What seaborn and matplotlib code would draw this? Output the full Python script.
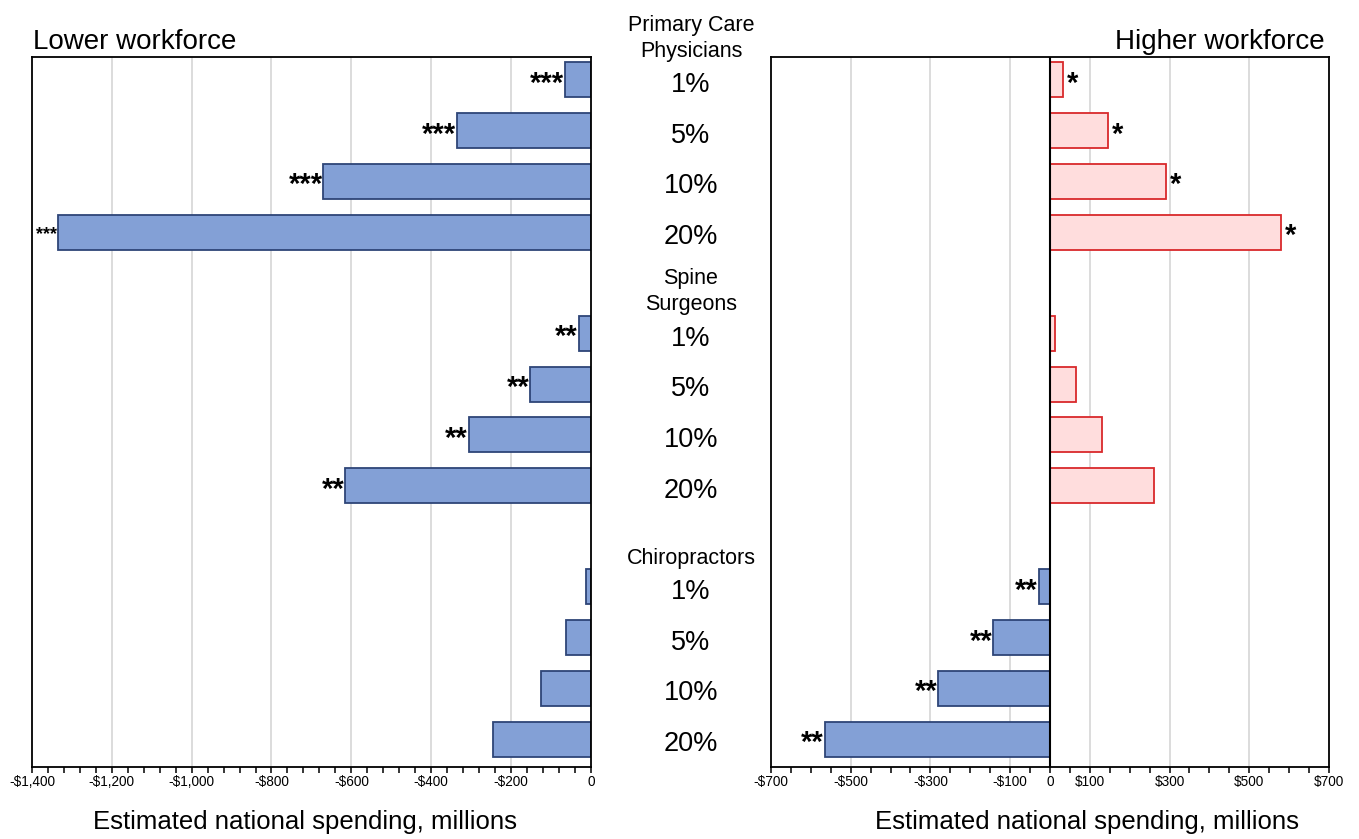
import matplotlib
matplotlib.use("Agg")
import matplotlib.pyplot as plt
import matplotlib.transforms as mtransforms
from matplotlib.ticker import FixedLocator, MultipleLocator
import pandas as pd
import seaborn as sns

# ---- data -------------------------------------------------------------
groups = ["Primary Care\nPhysicians", "Spine\nSurgeons", "Chiropractors"]
levels = ["1%", "5%", "10%", "20%"]

# change in estimated national spending, millions of dollars
lower_pcp = [-65, -335, -670, -1335]
lower_spine = [-31, -152, -306, -615]
lower_chiro = [-13, -62, -124, -244]

higher_pcp = [32, 146, 291, 579]
higher_spine = [13, 66, 131, 261]
higher_chiro = [-28, -142, -280, -565]

lower_sig = ["***", "***", "***", "***", "**", "**", "**", "**", "", "", "", ""]
higher_sig = ["*", "*", "*", "*", "", "", "", "", "**", "**", "**", "**"]

left_ticks = [-1400, -1200, -1000, -800, -600, -400, -200, 0]
left_tick_labels = ["-$1,400", "-$1,200", "-$1,000", "-$800", "-$600", "-$400", "-$200", "0"]
right_ticks = [-700, -500, -300, -100, 0, 100, 300, 500, 700]
right_tick_labels = ["-$700", "-$500", "-$300", "-$100", "0", "$100", "$300", "$500", "$700"]

panel_titles = ["Lower workforce", "Higher workforce"]
x_title = "Estimated national spending, millions"

# ---- styling ----------------------------------------------------------
sns.set_style("white")
plt.rcParams["font.family"] = ["Liberation Sans", "DejaVu Sans"]
plt.rcParams["text.color"] = "black"
plt.rcParams["xtick.color"] = "black"
plt.rcParams["xtick.labelcolor"] = "black"

BLUE = "#83A0D6"
BLUE_EDGE = "#2E4577"
PINK = "#FFDDDD"
RED_EDGE = "#D9292B"
GRID = "#D9D9D9"


def build_frame(pcp, spine, chiro, sig):
    rows = []
    for gi, vals in enumerate([pcp, spine, chiro]):
        for li, v in enumerate(vals):
            rows.append({"group": gi, "level": levels[li], "value": v,
                         "pos": gi * 5 + li})
    df = pd.DataFrame(rows)
    df["sig"] = sig
    return df


lower_df = build_frame(lower_pcp, lower_spine, lower_chiro, lower_sig)
higher_df = build_frame(higher_pcp, higher_spine, higher_chiro, higher_sig)

fig = plt.figure(figsize=(13.59, 8.39), dpi=100)
ax_l = fig.add_axes([0.0235, 0.0858, 0.4113, 0.8462])
ax_r = fig.add_axes([0.5673, 0.0858, 0.4106, 0.8462])


def draw_panel(ax, df, ticks, tick_labels, minor_step, star_sizes=None):
    neg = df[df["value"] < 0]
    pos = df[df["value"] > 0]
    if len(neg):
        sns.barplot(data=neg, x="value", y="pos", orient="h", native_scale=True,
                    width=0.69, color=BLUE, edgecolor=BLUE_EDGE, linewidth=1.3,
                    saturation=1, errorbar=None, ax=ax, zorder=2)
    if len(pos):
        sns.barplot(data=pos, x="value", y="pos", orient="h", native_scale=True,
                    width=0.69, color=PINK, edgecolor=RED_EDGE, linewidth=1.3,
                    saturation=1, errorbar=None, ax=ax, zorder=2)
    ax.set_xlim(ticks[0], ticks[-1])
    ax.set_ylim(13.55, -0.45)
    ax.set_xlabel("")
    ax.set_ylabel("")
    ax.set_yticks([])
    ax.xaxis.set_major_locator(FixedLocator(ticks))
    ax.set_xticklabels(tick_labels)
    ax.xaxis.set_minor_locator(MultipleLocator(minor_step))
    ax.tick_params(axis="x", which="both", direction="out", length=4,
                   width=1.1, color="black", bottom=True, labelsize=9.8,
                   labelcolor="black", pad=1.5)
    inner = [t for t in ticks[1:-1] if t != 0]
    for t in inner:
        ax.axvline(t, color=GRID, lw=1.3, zorder=0)
    for side in ax.spines.values():
        side.set_visible(True)
        side.set_color("black")
        side.set_linewidth(1.3)

    # significance markers next to the bar ends
    for _, r in df.iterrows():
        if not r["sig"]:
            continue
        size = 21
        if star_sizes and r["pos"] in star_sizes:
            size = star_sizes[r["pos"]]
        dy = -7.8 * size / 19
        if r["value"] < 0:
            ax.annotate(r["sig"], (r["value"], r["pos"]), xytext=(-0.5, dy),
                        textcoords="offset points", ha="right", va="baseline",
                        fontsize=size, fontweight="bold", color="black",
                        annotation_clip=False)
        else:
            ax.annotate(r["sig"], (r["value"], r["pos"]), xytext=(3, dy),
                        textcoords="offset points", ha="left", va="baseline",
                        fontsize=size, fontweight="bold", color="black",
                        annotation_clip=False)


draw_panel(ax_l, lower_df, left_ticks, left_tick_labels, 40, star_sizes={3: 13})
draw_panel(ax_r, higher_df, right_ticks, right_tick_labels, 50)
ax_r.axvline(0, color="black", lw=1.5, zorder=3)

# panel titles
fig.text(33 / 1359, 1 - 49 / 839, panel_titles[0], ha="left", va="baseline", fontsize=20)
fig.text(1325 / 1359, 1 - 49 / 839, panel_titles[1], ha="right", va="baseline", fontsize=20)

# axis titles
fig.text(305 / 1359, 1 - 829 / 839, x_title, ha="center", va="baseline", fontsize=18.5)
fig.text(1087 / 1359, 1 - 829 / 839, x_title, ha="center", va="baseline", fontsize=18.5)

# centre column: group names and percentage levels
trans = mtransforms.blended_transform_factory(fig.transFigure, ax_l.transData)
cx = 691 / 1359
for gi, g in enumerate(groups):
    fig.text(cx, gi * 5 - 0.36, g, transform=trans, ha="center", va="bottom",
             fontsize=15.5, linespacing=1.3)
    for li, lev in enumerate(levels):
        fig.text(cx, gi * 5 + li + 0.1, lev, transform=trans, ha="center",
                 va="center", fontsize=19.5)

fig.savefig("out.png", dpi=100)
